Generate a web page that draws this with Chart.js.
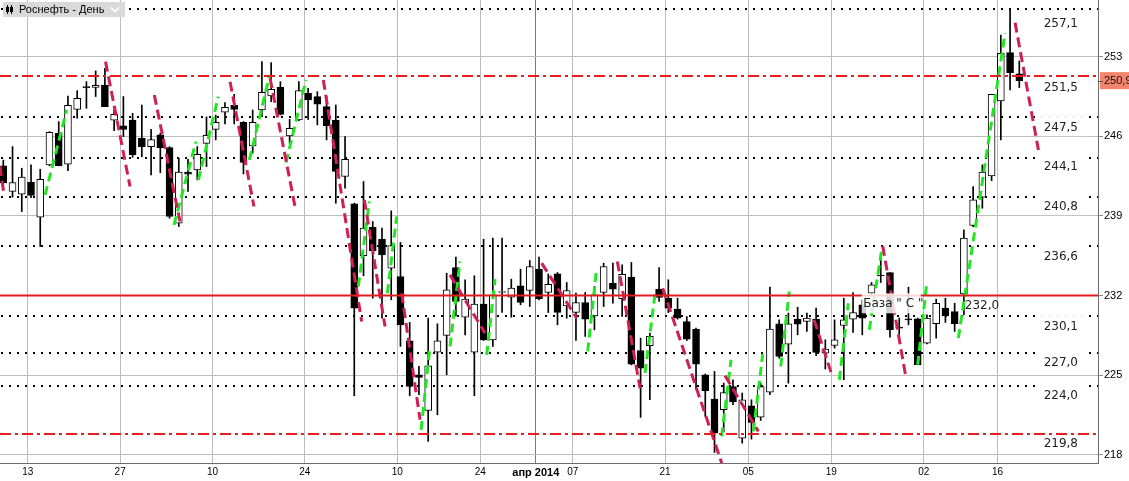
<!DOCTYPE html>
<html><head><meta charset="utf-8">
<script src="https://cdn.jsdelivr.net/npm/chart.js@4.4.1/dist/chart.umd.min.js"></script>
<style>html,body{margin:0;padding:0;background:#fff;overflow:hidden}#wrap{position:relative;width:1129px;height:481px}</style>
</head><body><div id="wrap"><canvas id="c" width="1129" height="481"></canvas></div>
<script>
// ---- data (daily candles, index 0 = first visible trading day) ----
const opens = [243.4,241.14,240.9,241.96,238.88,243.48,246.26,243.54,248.37,250.32,250.3,250.51,247.41,246.91,247.43,245.82,245.09,246.12,245.0,238.35,
242.84,243.04,245.38,246.61,248.11,248.72,247.23,245.15,248.31,249.54,250.3,246.03,247.43,249.78,249.48,248.61,247.43,242.46,240.05,235.51,
238.0,236.95,234.4,233.67,228.01,225.03,221.89,227.02,228.48,234.46,230.09,227.02,231.24,228.1,232.26,231.85,232.85,232.44,234.31,232.26,
233.9,231.09,230.5,231.38,230.21,232.26,233.08,231.71,233.61,227.16,227.58,232.56,231.76,230.8,229.71,229.04,225.03,222.89,221.95,224.0,
219.46,222.3,221.31,223.5,229.51,227.72,229.92,229.71,229.92,226.93,227.6,229.36,229.92,231.18,232.2,233.75,234.02,229.15,229.88,229.95,
227.81,229.51,230.89,230.59,232.14,238.15,240.64,242.51,249.1,253.35,251.48];
const highs = [243.9,245.09,243.19,243.48,243.1,246.4,247.29,249.54,250.01,250.8,251.74,251.97,248.31,249.49,248.02,248.75,246.61,246.26,245.09,244.07,
243.98,245.09,247.7,247.87,248.96,249.69,247.29,248.31,252.56,252.47,250.8,247.49,250.8,250.22,249.92,249.49,248.75,245.97,240.11,242.02,
238.5,237.92,239.44,236.66,229.63,225.76,230.01,229.51,233.96,235.37,233.38,233.73,236.95,237.04,237.04,233.43,234.31,235.07,235.37,233.9,
234.02,233.14,232.2,232.26,232.79,234.84,234.84,234.69,234.9,228.25,228.69,234.46,233.38,231.76,230.15,229.13,225.09,225.32,224.29,224.59,
223.42,222.83,224.29,232.73,229.86,230.45,230.97,230.45,230.89,228.1,229.86,231.76,232.26,231.62,233.14,235.72,234.02,230.01,232.73,230.01,
230.3,231.68,231.76,231.32,237.77,241.58,243.48,249.69,254.9,257.25,252.62];
const lows = [241.8,240.64,239.38,240.61,236.3,243.4,243.4,242.98,247.58,248.46,249.49,248.6,246.5,245.97,244.15,244.21,242.6,242.8,238.79,238.06,
241.14,242.16,243.33,245.68,247.08,247.08,242.69,244.5,247.73,249.05,247.87,245.38,247.38,247.49,247.0,245.68,240.11,241.43,223.18,233.73,
231.76,230.01,231.62,227.52,223.18,223.27,219.17,221.51,225.03,230.21,228.54,223.18,228.04,227.52,230.5,230.09,231.18,231.03,231.62,230.5,
229.42,230.01,228.04,228.4,228.98,231.03,231.32,230.15,225.9,221.28,222.83,231.47,230.5,229.92,228.04,223.71,221.37,218.2,220.05,222.39,
219.02,219.37,221.01,223.27,226.49,224.29,228.54,228.84,226.7,225.53,227.37,224.59,228.75,228.54,232.14,233.14,228.34,228.25,229.42,225.91,
227.75,228.25,229.63,228.84,230.3,238.06,239.67,242.1,245.68,250.07,250.28];
const closes = [241.9,241.93,242.4,240.79,242.22,246.35,243.42,248.72,249.34,250.28,250.48,248.61,247.93,246.61,244.36,245.09,245.71,245.0,238.94,242.84,
242.66,244.42,246.09,247.23,248.55,248.37,243.69,247.23,249.87,250.13,247.93,246.7,250.01,249.19,248.81,246.91,242.9,243.98,230.88,237.92,
235.95,235.57,236.39,229.42,224.0,224.79,225.82,228.01,232.5,231.47,231.68,231.24,228.1,232.06,232.32,232.64,231.38,234.55,231.71,232.99,
230.5,232.44,231.38,229.92,232.06,234.55,232.56,233.87,225.96,225.61,228.4,231.82,230.88,230.01,228.16,225.96,223.62,219.9,223.47,222.63,
222.83,220.84,224.0,229.04,226.64,229.51,229.48,230.01,226.99,227.28,228.1,229.86,230.5,230.01,232.94,233.71,228.98,229.13,229.86,225.91,
230.01,231.32,230.21,229.51,237.04,240.4,242.84,249.69,253.29,251.59,250.89];

// x-axis: candle index of each labelled date, and the label text
const tickIdx = [3,13,23,33,43,52,58,62,72,81,90,100,108];
const tickLabels = ['13','27','10','24','10','24','апр 2014','07','21','05','19','02','16'];
const yTicks = [218,225,232,239,246,253];

// drawn levels
const dottedLevels = [257.15,247.67,244.12,240.64,236.37,230.2,226.94,224.0];
const dottedLabels = ['257,1','247,5','244,1','240,8','236,6','230,1','227,0','224,0'];
const dashDotLevels = [251.3,219.82];
const dashDotLabels = ['251,5','219,8'];
const baseLevel = 232.0;
const baseLabel = '232,0';
const baseNote = 'База " С "';
const lastPrice = '250,9';

// trend segments [x1, y1, x2, y2] in (candle index, price)
const redSegments = [
 [-0.36,243.39,0.08,240.84],[11.07,252.56,13.72,241.58],[16.35,249.63,19.13,238.5],[24.55,250.8,27.14,239.82],
 [28.88,251.1,31.58,239.82],[34.65,250.95,38.8,229.71],[39.09,240.4,41.33,229.27],[43.13,232.2,45.12,221.07],
 [48.36,233.81,52.15,228.69],[58.29,234.84,62.08,230.01],[66.48,234.99,68.94,223.85],[71.39,232.64,77.78,217.27],
 [78.14,224.94,81.75,220.05],[87.78,229.86,89.7,225.03],[95.21,236.36,97.74,224.73],[109.54,255.99,112.07,244.8]];
const greenSegments = [
 [4.52,240.84,6.86,248.31],[18.48,238.21,20.86,245.53],[21.12,242.16,23.28,249.49],[26.64,243.92,28.8,251.24],
 [30.61,243.69,32.77,250.95],[38.44,232.79,39.63,240.26],[41.58,232.2,42.59,238.94],[45.23,220.19,46.2,227.52],
 [48.37,227.52,49.45,234.99],[52.34,226.78,53.24,233.43],[63.27,227.08,64.18,233.96],[69.48,225.18,70.56,232.14],
 [77.78,219.61,78.79,226.35],[81.21,220.05,82.22,226.84],[84.17,225.76,85.1,232.35],[90.52,224.59,91.49,231.32],
 [93.76,228.98,95.1,236.01],[99.0,225.91,100.0,233.23],[103.4,228.25,108.46,255.05]];

// ---- build ----
const idx = opens.map((_, i) => i);
const bodyData = idx.map(i => ({x: i, y: [opens[i], closes[i]]}));
const wickData = idx.map(i => ({x: i, y: [lows[i], highs[i]]}));
const bodyColors = idx.map(i => closes[i] > opens[i] ? '#ffffff' : '#000000');
function segData(segs) {
  const d = [];
  segs.forEach(s => { d.push({x: s[0], y: s[1]}); d.push({x: s[2], y: s[3]}); d.push({x: s[2], y: null}); });
  return d;
}

const labelDy = [14.4, 10.4, 8.3, 9.4, 10.7, 10.7, 9.4, 9.3];
const dashLabelDy = [11.7, 9];

const overlay = {
  id: 'overlay',
  beforeDatasetsDraw(chart) {
    const {ctx, chartArea: a, scales: {y}} = chart;
    ctx.save();
    ctx.beginPath(); ctx.rect(a.left, a.top, a.width, a.height); ctx.clip();
    ctx.strokeStyle = '#000'; ctx.lineWidth = 2; ctx.setLineDash([2, 6]);
    dottedLevels.forEach(v => {
      const py = Math.round(y.getPixelForValue(v));
      ctx.beginPath(); ctx.moveTo(a.left + 1, py); ctx.lineTo(a.right, py); ctx.stroke();
    });
    ctx.restore();
  },
  afterDatasetsDraw(chart) {
    const {ctx, chartArea: a, scales: {x, y}} = chart;
    ctx.save();
    ctx.beginPath(); ctx.rect(a.left, a.top, a.width, a.height); ctx.clip();
    ctx.font = '12px "DejaVu Sans"'; ctx.textAlign = 'right'; ctx.textBaseline = 'middle';
    const labs = dottedLevels.map((v, i) => [v, dottedLabels[i], labelDy[i]])
      .concat(dashDotLevels.map((v, i) => [v, dashDotLabels[i], dashLabelDy[i]]));
    labs.forEach(([v, t, dy]) => {
      const py = y.getPixelForValue(v) + dy;
      ctx.fillStyle = '#fff'; ctx.fillRect(a.right - 58, py - 11.5, 47, 20);
      ctx.fillStyle = '#222'; ctx.fillText(t, a.right - 20, py + 0.5);
    });
    // solid base line
    ctx.setLineDash([]); ctx.strokeStyle = '#e21c1c'; ctx.lineWidth = 2;
    let py = y.getPixelForValue(baseLevel);
    ctx.beginPath(); ctx.moveTo(a.left, py); ctx.lineTo(a.right, py); ctx.stroke();
    ctx.textAlign = 'left'; ctx.fillStyle = '#222';
    ctx.fillText(baseLabel, x.getPixelForValue(104.1), py + 10.7);
    // dash-dot levels
    ctx.strokeStyle = '#e61e1e'; ctx.lineWidth = 2; ctx.setLineDash([11, 4, 3, 4]);
    dashDotLevels.forEach(v => {
      const p = Math.round(y.getPixelForValue(v));
      ctx.beginPath(); ctx.moveTo(a.left, p); ctx.lineTo(a.right, p); ctx.stroke();
    });
    ctx.setLineDash([]);
    // note box
    const nx = x.getPixelForValue(92.94), ny = y.getPixelForValue(231.31);
    ctx.fillStyle = 'rgba(255,255,255,0.82)'; ctx.fillRect(nx, ny - 10, 59, 20);
    ctx.fillStyle = '#222'; ctx.fillText(baseNote, nx + 1.5, ny + 0.5);
    ctx.restore();

    // last price marker on the axis
    ctx.save();
    const lp = y.getPixelForValue(closes[closes.length - 1]);
    ctx.fillStyle = '#f4846c'; ctx.fillRect(a.right + 2, lp - 8.5, 40, 17);
    ctx.strokeStyle = '#555'; ctx.lineWidth = 1;
    ctx.beginPath(); ctx.moveTo(a.right, Math.round(lp) + 0.5); ctx.lineTo(a.right + 5, Math.round(lp) + 0.5); ctx.stroke();
    ctx.fillStyle = '#111'; ctx.font = '11px "Liberation Sans"'; ctx.textAlign = 'left'; ctx.textBaseline = 'middle';
    ctx.fillText(lastPrice, a.right + 6, lp);
    // title box
    ctx.fillStyle = '#d9d9d9'; ctx.fillRect(3, 2, 122, 15);
    ctx.strokeStyle = '#000'; ctx.lineWidth = 1;
    [7.5, 11.5].forEach(cx => {
      ctx.beginPath(); ctx.moveTo(cx, 5); ctx.lineTo(cx, 14); ctx.stroke();
      ctx.fillStyle = '#000'; ctx.fillRect(cx - 1.5, 7, 3, 5);
    });
    ctx.fillStyle = '#000'; ctx.font = '11px "Liberation Sans"'; ctx.textBaseline = 'middle';
    ctx.fillText('Роснефть - День', 19, 10);
    ctx.strokeStyle = '#fff'; ctx.lineWidth = 1.6;
    ctx.beginPath(); ctx.moveTo(111, 7.5); ctx.lineTo(115, 11.5); ctx.lineTo(119, 7.5); ctx.stroke();
    ctx.restore();
  }
};

new Chart(document.getElementById('c'), {
  type: 'bar',
  data: {
    datasets: [
      {type: 'line', data: segData(redSegments), borderColor: '#cf1f55', borderWidth: 3, borderDash: [10, 5],
       pointRadius: 0, spanGaps: false, order: 0},
      {type: 'line', data: segData(greenSegments), borderColor: '#22e622', borderWidth: 3, borderDash: [9, 5],
       pointRadius: 0, spanGaps: false, order: 1},
      {type: 'bar', data: bodyData, backgroundColor: bodyColors, borderColor: '#000', borderWidth: 1,
       borderSkipped: false, barThickness: 7, grouped: false, minBarLength: 1, order: 2},
      {type: 'bar', data: wickData, backgroundColor: '#000', borderWidth: 0,
       barThickness: 1, grouped: false, order: 3}
    ]
  },
  options: {
    responsive: false, maintainAspectRatio: false, animation: false, devicePixelRatio: 1,
    layout: {padding: 0},
    plugins: {legend: {display: false}, tooltip: {enabled: false}},
    scales: {
      x: {
        type: 'linear', min: -0.357, max: 118.52, offset: false,
        afterBuildTicks: s => { s.ticks = tickIdx.map(v => ({value: v - 0.35})); },
        afterFit: s => { s.height = 18; s.paddingLeft = 0; s.paddingRight = 0; },
        ticks: {autoSkip: false, maxRotation: 0, padding: 3, color: '#000',
          callback: (v, i) => tickLabels[i],
          font: c => c.index === 6 ? {family: 'Liberation Sans', size: 11, weight: 'bold'} : {family: 'Liberation Sans', size: 10}},
        grid: {offset: false, color: c => c.index === 6 ? '#7a7a7a' : '#bdbdbd', drawTicks: false, lineWidth: 1},
        border: {color: '#6e6e6e'}
      },
      y: {
        type: 'linear', position: 'right', min: 217.27, max: 257.98,
        afterBuildTicks: s => { s.ticks = yTicks.map(v => ({value: v})); },
        afterFit: s => { s.width = 31; s.paddingTop = 0; s.paddingBottom = 0; },
        ticks: {padding: 1, color: '#000', font: {family: 'Liberation Sans', size: 11}, callback: v => String(v)},
        grid: {color: '#bdbdbd', tickColor: '#8a8a8a', tickLength: 5, drawTicks: true},
        border: {color: '#6e6e6e'}
      }
    }
  },
  plugins: [overlay]
});
</script>
</body></html>
